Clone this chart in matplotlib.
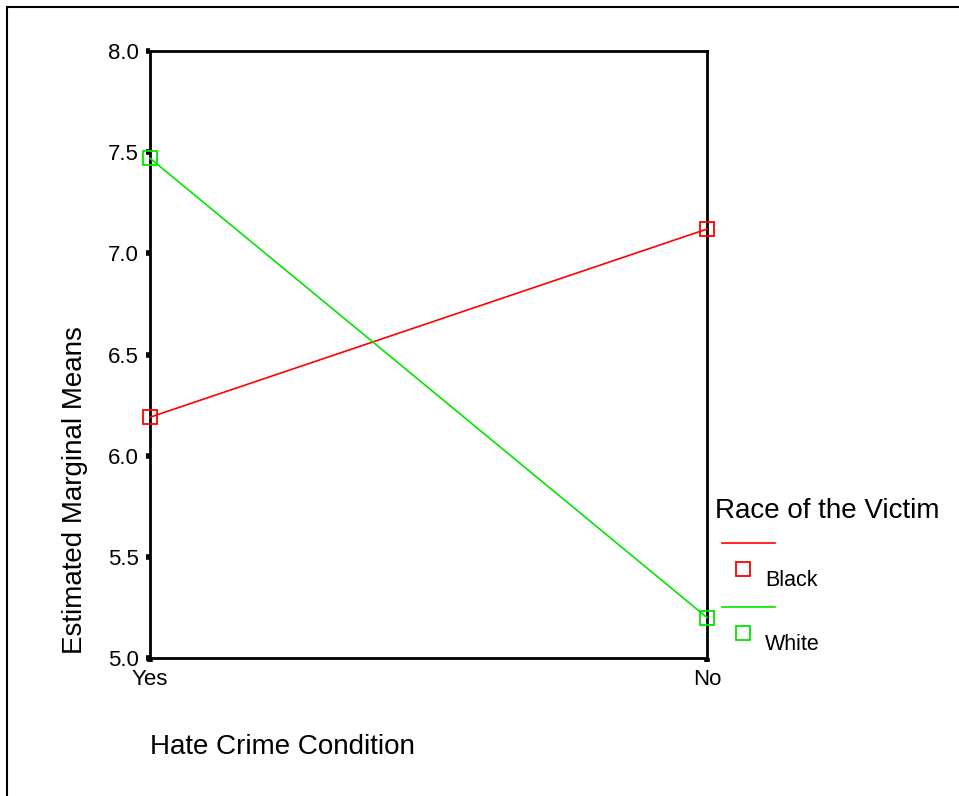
import matplotlib.pyplot as plt
from matplotlib.lines import Line2D
from matplotlib.patches import Rectangle

plt.rcParams['font.family'] = ['Liberation Sans', 'DejaVu Sans']

conditions = ['Yes', 'No']
black_means = [6.19, 7.12]
white_means = [7.47, 5.20]
series_names = ['Black', 'White']
series_colors = ['#ff0000', '#00e600']
y_ticks = [5.0, 5.5, 6.0, 6.5, 7.0, 7.5, 8.0]

fig = plt.figure(figsize=(9.59, 7.96), dpi=100)

# outer frame (only left and top edges visible in the original)
fig.add_artist(Rectangle((7 / 959, -0.1), 1.2, 1 - 7 / 796 + 0.1, transform=fig.transFigure,
                         fill=False, edgecolor='black', linewidth=1.5))

ax = fig.add_axes([150 / 959, 1 - 658 / 796, 557 / 959, 607 / 796])
x = list(range(len(conditions)))
for vals, color in zip([black_means, white_means], series_colors):
    ax.plot(x, vals, color=color, linewidth=1.2, marker='s', markersize=9.5,
            markerfacecolor='none', markeredgecolor=color, markeredgewidth=1.3,
            clip_on=False, zorder=3)

ax.set_xlim(0, len(conditions) - 1)
ax.set_ylim(5.0, 8.0)
ax.set_xticks(x)
ax.set_xticklabels(conditions)
ax.set_yticks(y_ticks)
ax.set_yticklabels([f'{t:.1f}' for t in y_ticks])
for s in ax.spines.values():
    s.set_linewidth(2)
ax.tick_params(axis='both', direction='out', length=3, width=4, labelsize=16, pad=5)
ax.tick_params(axis='x', pad=5)

fig.text(75 / 959, 1 - 490 / 796, 'Estimated Marginal Means', rotation=90,
         ha='center', va='center', fontsize=20)
fig.text(150 / 959, 1 - 747 / 796, 'Hate Crime Condition', ha='left', va='center', fontsize=20)

# legend drawn by hand to mimic the SPSS layout
fig.text(715 / 959, 1 - 511 / 796, 'Race of the Victim', ha='left', va='center', fontsize=20)
for i, (name, color) in enumerate(zip(series_names, series_colors)):
    y0 = 543 + i * 64
    fig.add_artist(Line2D([722 / 959, 775 / 959], [1 - y0 / 796] * 2,
                          color=color, linewidth=1.2, transform=fig.transFigure))
    fig.add_artist(Line2D([743 / 959], [1 - (y0 + 26) / 796], marker='s', markersize=9.5,
                          markerfacecolor='none', markeredgecolor=color, markeredgewidth=1.3,
                          linestyle='none', transform=fig.transFigure))
    fig.text(765 / 959, 1 - (y0 + 38) / 796, name, ha='left', va='center', fontsize=15.5)

fig.savefig('out.png', dpi=100)
